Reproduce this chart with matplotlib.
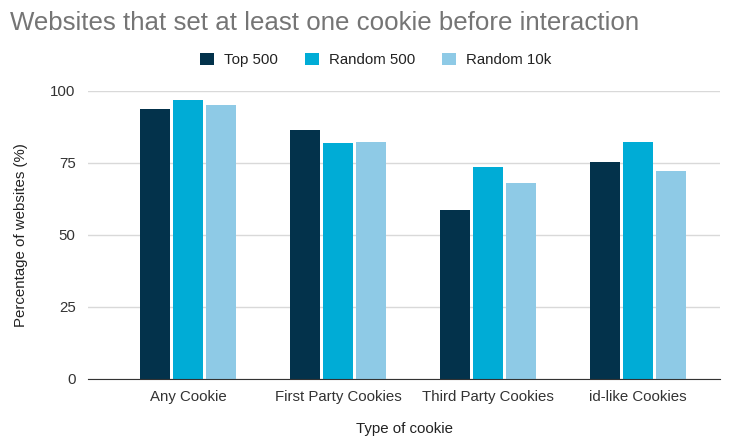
import numpy as np
import matplotlib.pyplot as plt

plt.rcParams['font.family'] = ['Liberation Sans', 'DejaVu Sans']

categories = ['Any Cookie', 'First Party Cookies', 'Third Party Cookies', 'id-like Cookies']
series = ['Top 500', 'Random 500', 'Random 10k']
top500 = [93.6, 86.5, 58.7, 75.3]
random500 = [96.9, 82.0, 73.5, 82.4]
random10k = [95.0, 82.4, 68.2, 72.1]
colors = ['#03324b', '#00acd6', '#8ecae6']

fig = plt.figure(figsize=(7.3, 4.41), dpi=100)
ax = fig.add_axes([88 / 730, 1 - 379 / 441, (720 - 88) / 730, (379 - 91) / 441])

x = np.arange(len(categories))
w = 0.2
step = 0.22
for i, (name, vals) in enumerate(zip(series, [top500, random500, random10k])):
    ax.bar(x + (i - 1) * step, vals, width=w, color=colors[i], label=name, zorder=3)

ax.set_ylim(0, 100)
ax.set_xlim(-0.67, 3.55)
ax.set_yticks([0, 25, 50, 75, 100])
ax.set_xticks(x)
ax.set_xticklabels(categories)
ax.tick_params(axis='both', length=0, labelsize=10.8, colors='#333333', pad=8)
ax.tick_params(axis='y', pad=9)
ax.grid(axis='y', color='#d9d9d9', linewidth=1, zorder=0)
for s in ['top', 'right', 'left']:
    ax.spines[s].set_visible(False)
ax.spines['bottom'].set_color('#333333')
ax.spines['bottom'].set_zorder(4)

ax.set_xlabel('Type of cookie', fontsize=10.8, color='#222222', labelpad=13)
ax.set_ylabel('Percentage of websites (%)', fontsize=10.8, color='#222222', labelpad=16)

fig.text(10 / 730, 1 - 23 / 441, 'Websites that set at least one cookie before interaction',
         fontsize=18.6, color='#757575', va='center', ha='left')

fig.legend(loc='center', bbox_to_anchor=(376 / 730, 1 - 60 / 441), ncol=3, frameon=False,
           fontsize=10.8, handlelength=0.9, handleheight=0.9, handletextpad=0.7,
           columnspacing=1.8, labelcolor='#222222')

fig.savefig('out.png', dpi=100)
